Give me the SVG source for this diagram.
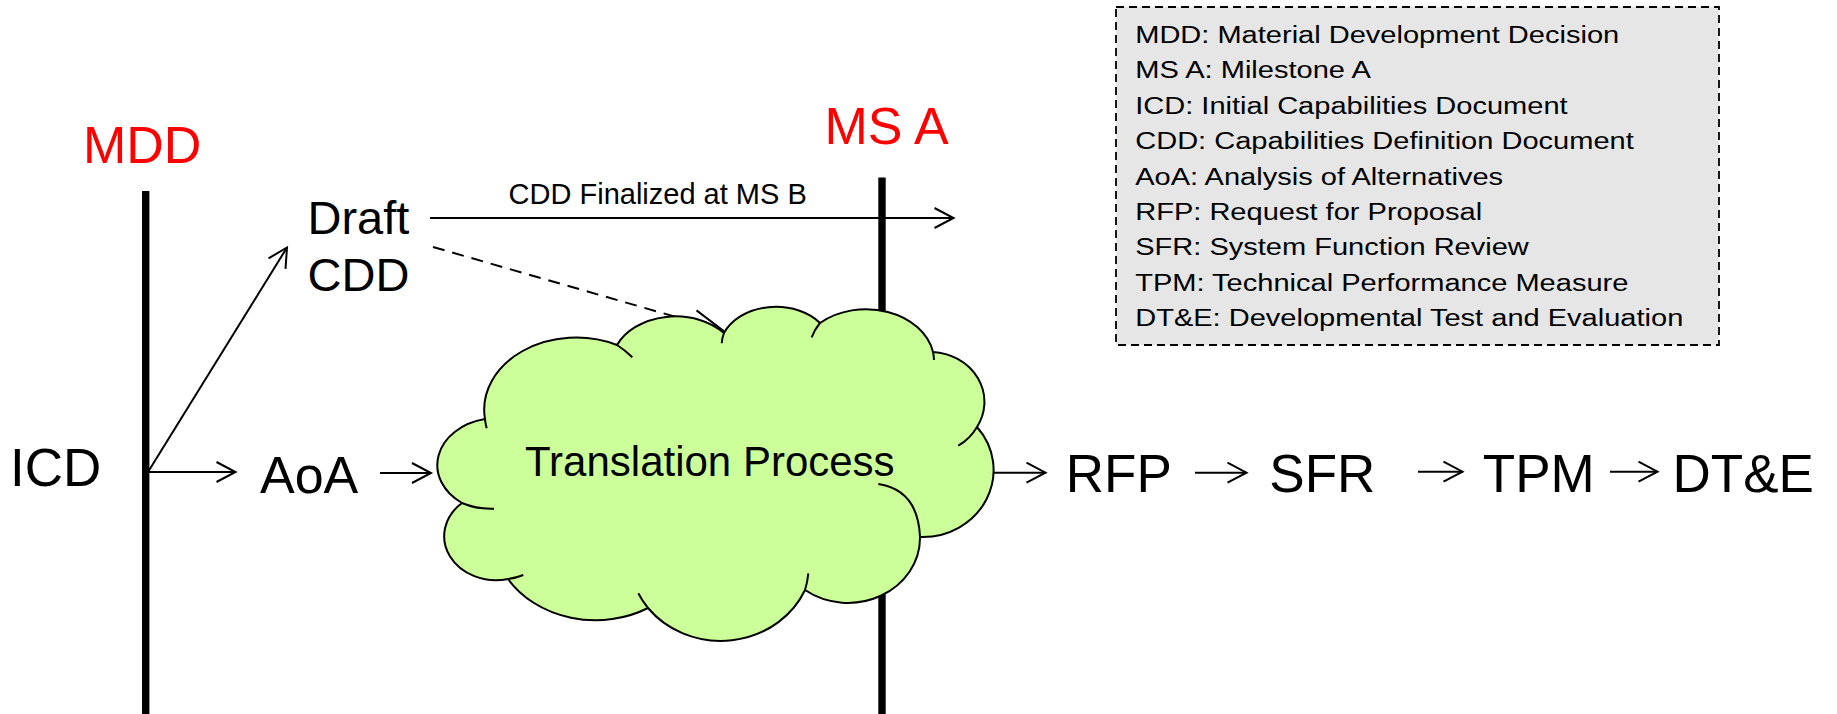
<svg xmlns="http://www.w3.org/2000/svg" width="1837" height="714" viewBox="0 0 1837 714">
<style>
text{font-family:"Liberation Sans",Arial,sans-serif;fill:#000}
.red{fill:#FF0000}
.bar{fill:#000}
.conn{fill:none;stroke:#000;stroke-width:2}
.dash{stroke-dasharray:12 8}
.cloud{fill:#CCFF99;stroke:#000;stroke-width:2;stroke-linejoin:round}
.tick{fill:none;stroke:#000;stroke-width:2}
.lg{font-size:24.3px}
</style>
<defs>
<marker id="ah" viewBox="-24 -12 28 24" markerWidth="28" markerHeight="24" refX="0" refY="0" orient="auto" markerUnits="userSpaceOnUse" overflow="visible">
<path d="M-19,-10 L0,0 L-19,10" fill="none" stroke="#000" stroke-width="2"/>
</marker>
<marker id="ahL" viewBox="-34 -14 38 28" markerWidth="38" markerHeight="28" refX="0" refY="0" orient="auto" markerUnits="userSpaceOnUse" overflow="visible">
<path d="M-31,-12 L0,0 L-31,12" fill="none" stroke="#000" stroke-width="2"/>
</marker>
</defs>
<rect width="1837" height="714" fill="#fff"/>

<g id="mdd">
<rect class="bar" x="142" y="191" width="7.4" height="523"/>
<text class="red" x="83" y="163.3" font-size="52">MDD</text>
</g>
<g id="ms-a">
<rect class="bar" x="878.3" y="177.5" width="7.4" height="537"/>
<text class="red" x="824.5" y="144.3" font-size="52">MS A</text>
</g>

<g id="connectors">
<path class="conn" d="M148,472 L287,247.5" marker-end="url(#ah)"/>
<path class="conn" d="M148,472 L235.5,472" marker-end="url(#ah)"/>
<path class="conn" d="M380,473 L431,473" marker-end="url(#ah)"/>
<path class="conn" d="M430,218 L953.5,218" marker-end="url(#ah)"/>
<text x="508.6" y="204.3" font-size="29">CDD Finalized at MS B</text>
<path class="conn dash" d="M433,247 L723,330.5" marker-end="url(#ahL)"/>
<path class="conn" d="M990,472.7 L1045.5,472.7" marker-end="url(#ah)"/>
<path class="conn" d="M1195,472.7 L1246.5,472.7" marker-end="url(#ah)"/>
<path class="conn" d="M1418,471.7 L1462.5,471.7" marker-end="url(#ah)"/>
<path class="conn" d="M1610,471.7 L1657.5,471.7" marker-end="url(#ah)"/>
</g>

<g id="icd">
<text x="10" y="486" font-size="53">ICD</text>
</g>
<g id="draft-cdd">
<text x="307.5" y="234" font-size="47">Draft</text>
<text x="307.5" y="290.7" font-size="47">CDD</text>
</g>
<g id="aoa">
<text x="260" y="492.7" font-size="52">AoA</text>
</g>

<g id="translation-process">
<path class="cloud" d="M485,419 A92,72 0 0 1 617,345 A64,48 0 0 1 724,333 A56,42 0 0 1 820,323 A68,52 0 0 1 933,352 A55,50 0 0 1 977,427 A71,67 0 0 1 920,537 A72,65 0 0 1 805,590 A92,85 0 0 1 648,608 A102,85 0 0 1 508,579 A52,44 0 0 1 462,503 A60,47 0 0 1 485,419 Z"/>
<path class="tick" d="M486.7,428.3 A92,72 0 0 1 485,419"/>
<path class="tick" d="M617,345 A92,72 0 0 1 632.3,357.3"/>
<path class="tick" d="M721.7,343.3 A56,42 0 0 1 724,333"/>
<path class="tick" d="M811.7,337.3 A68,52 0 0 1 820,323"/>
<path class="tick" d="M933,352 A68,52 0 0 1 934,360"/>
<path class="tick" d="M977,427 A55,50 0 0 1 958.3,445.7"/>
<path class="tick" d="M878.3,484 Q918,490 920,537"/>
<path class="tick" d="M808.3,573.3 A92,85 0 0 1 805,590"/>
<path class="tick" d="M648,608 A92,85 0 0 1 638.3,593.3"/>
<path class="tick" d="M523.3,575 A52,44 0 0 1 508,579"/>
<path class="tick" d="M494,508.7 A60,47 0 0 1 462,503"/>
<text x="525" y="476" font-size="42">Translation Process</text>
</g>

<g id="rfp"><text x="1065.8" y="491.7" font-size="53">RFP</text></g>
<g id="sfr"><text x="1269.3" y="491.7" font-size="53">SFR</text></g>
<g id="tpm"><text x="1482.8" y="491.7" font-size="53">TPM</text></g>
<g id="dte"><text x="1672.6" y="491.7" font-size="53">DT&amp;E</text></g>

<g id="legend">
<rect x="1116" y="7" width="603" height="338" fill="#E6E6E6" stroke="#000" stroke-width="1.8" stroke-dasharray="8 5"/>
<g transform="translate(1135.2,0) scale(1.195,1)">
<text class="lg" x="0" y="43">MDD: Material Development Decision</text>
<text class="lg" x="0" y="78.4">MS A: Milestone A</text>
<text class="lg" x="0" y="113.8">ICD: Initial Capabilities Document</text>
<text class="lg" x="0" y="149.2">CDD: Capabilities Definition Document</text>
<text class="lg" x="0" y="184.6">AoA: Analysis of Alternatives</text>
<text class="lg" x="0" y="220">RFP: Request for Proposal</text>
<text class="lg" x="0" y="255.4">SFR: System Function Review</text>
<text class="lg" x="0" y="290.8">TPM: Technical Performance Measure</text>
<text class="lg" x="0" y="326.2">DT&amp;E: Developmental Test and Evaluation</text>
</g>
</g>
</svg>
